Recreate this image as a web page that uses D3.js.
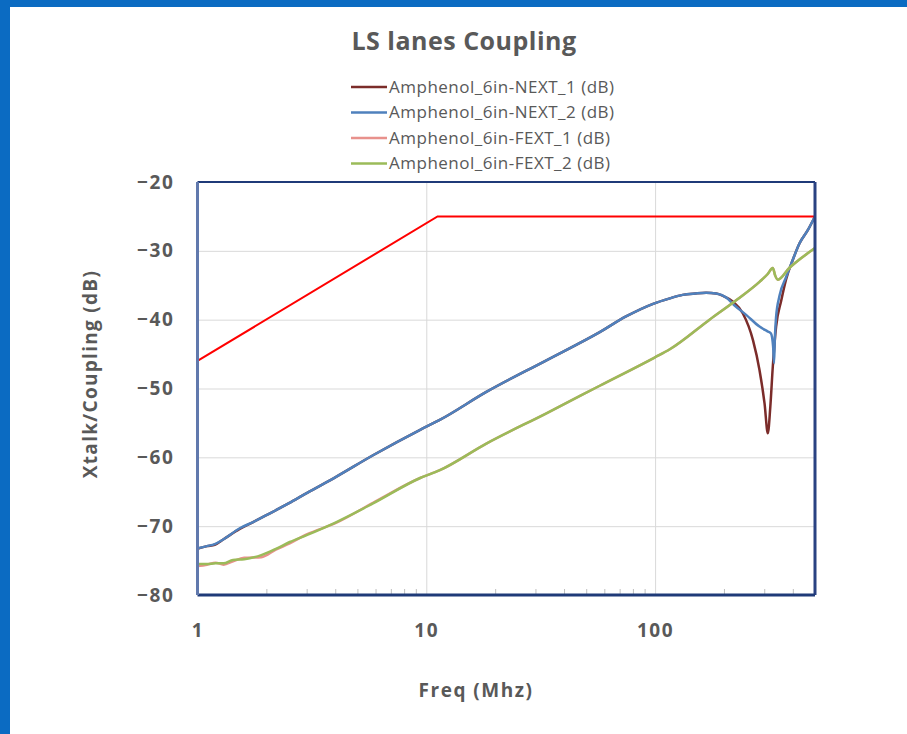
<!DOCTYPE html>
<html>
<head>
<meta charset="utf-8">
<script src="https://cdn.jsdelivr.net/npm/d3@7"></script>
<style>
  body { margin: 0; background: #fff; }
  text { font-family: "Open Sans", sans-serif; fill: #595959; }
</style>
</head>
<body>
<div id="chart"></div>
<script>
// chart data
var seriesNames = ["Amphenol_6in-NEXT_1 (dB)", "Amphenol_6in-NEXT_2 (dB)", "Amphenol_6in-FEXT_1 (dB)", "Amphenol_6in-FEXT_2 (dB)"];
var seriesColors = ["#7b2c2a", "#4f81bd", "#e8918c", "#9bbb59"];

var next1Freq = [1, 1.1, 1.19, 1.3, 1.53, 1.75, 2, 2.5, 3, 4.05, 5.85, 9.4, 11.4, 18.3, 33.5, 57.3, 75, 98, 116, 132, 150, 167, 185, 197, 219, 242, 268, 286, 301, 311, 319, 327, 338, 356, 374, 400, 428, 465, 500];
var next1Db = [-73.3, -72.9, -72.7, -71.9, -70.4, -69.4, -68.4, -66.7, -65.2, -62.8, -59.7, -56.0, -54.6, -50.5, -45.9, -41.8, -39.5, -37.7, -36.9, -36.4, -36.2, -36.1, -36.2, -36.5, -37.4, -39.1, -43.0, -47.3, -52.2, -56.5, -52.6, -46.8, -41.0, -37.2, -34.1, -31.3, -28.9, -27.0, -25.0];

var next2Freq = [1, 1.1, 1.19, 1.3, 1.53, 1.75, 2, 2.5, 3, 4.05, 5.85, 9.4, 11.4, 18.3, 33.5, 57.3, 75, 98, 116, 132, 150, 167, 185, 205, 222, 250, 286, 310, 321, 328, 331, 334, 338, 350, 374, 400, 428, 465, 500];
var next2Db = [-73.2, -72.9, -72.6, -71.9, -70.3, -69.4, -68.4, -66.7, -65.2, -62.8, -59.7, -56.0, -54.6, -50.5, -45.9, -41.8, -39.5, -37.7, -36.9, -36.4, -36.2, -36.1, -36.2, -36.8, -37.9, -39.3, -41.0, -41.7, -42.0, -43.9, -46.3, -42.5, -39.6, -36.5, -33.8, -31.3, -28.9, -27.0, -25.0];

var fext1Freq = [1, 1.1, 1.2, 1.3, 1.43, 1.6, 1.9, 2.2, 2.53, 3, 4.05, 5.85, 9.4, 11.4, 18.3, 33.5, 57.3, 99.5, 116, 173, 230, 286, 310, 327, 335, 344, 386, 430, 500];
var fext1Db = [-75.8, -75.6, -75.3, -75.6, -75.1, -74.6, -74.5, -73.4, -72.5, -71.2, -69.5, -66.6, -63.0, -61.9, -58.0, -53.6, -49.6, -45.5, -44.3, -40.0, -37.0, -34.5, -33.4, -32.5, -33.6, -34.2, -32.5, -31.2, -29.6];

var fext2Freq = [1, 1.1, 1.2, 1.3, 1.43, 1.6, 1.9, 2.2, 2.53, 3, 4.05, 5.85, 9.4, 11.4, 18.3, 33.5, 57.3, 99.5, 116, 173, 230, 286, 310, 327, 335, 344, 386, 430, 500];
var fext2Db = [-75.5, -75.5, -75.4, -75.4, -74.9, -74.8, -74.2, -73.3, -72.3, -71.3, -69.4, -66.7, -63.0, -61.9, -58.0, -53.6, -49.6, -45.5, -44.3, -40.0, -37.0, -34.5, -33.4, -32.5, -33.6, -34.2, -32.5, -31.2, -29.6];

var maskFreq = [1, 11.2, 500];
var maskDb = [-46, -25, -25];

var yTicks = [-20, -30, -40, -50, -60, -70, -80];
var xTicks = [1, 10, 100];
var xMinorTicks = [2, 3, 4, 5, 6, 7, 8, 9, 20, 30, 40, 50, 60, 70, 80, 90, 200, 300, 400];

// set the dimensions
var W = 907, H = 734;
var margin = {top: 182, right: 92, bottom: 139, left: 197.5},
width = W - margin.left - margin.right,
height = H - margin.top - margin.bottom;

var svg = d3.select("#chart")
.append("svg")
.attr("width", W)
.attr("height", H);

// blue window frame
svg.append("rect").attr("x", 0).attr("y", 0).attr("width", W).attr("height", 7).style("fill", "#0b6bc2");
svg.append("rect").attr("x", 0).attr("y", 0).attr("width", 10).attr("height", H).style("fill", "#0b6bc2");

var g = svg.append("g")
.attr("transform", "translate(" + margin.left + "," + margin.top + ")");

var x = d3.scaleLog().domain([1, 500]).range([0, width]);
var y = d3.scaleLinear().domain([-80, -20]).range([height, 0]);

// grid lines
g.append("g")
.call(d3.axisLeft(y).tickValues([-30, -40, -50, -60, -70]).tickSize(-width).tickFormat(""))
.call(function(s) { s.select(".domain").remove(); s.selectAll("line").style("stroke", "#d9d9d9"); });
g.append("g")
.attr("transform", "translate(0," + height + ")")
.call(d3.axisBottom(x).tickValues([10, 100]).tickSize(-height).tickFormat(""))
.call(function(s) { s.select(".domain").remove(); s.selectAll("line").style("stroke", "#d9d9d9"); });

// minor ticks pointing up from the x axis
g.append("g")
.attr("transform", "translate(0," + height + ")")
.call(d3.axisBottom(x).tickValues(xMinorTicks).tickSize(-6).tickFormat(""))
.call(function(s) { s.select(".domain").remove(); s.selectAll("line").style("stroke", "#bfbfbf"); });

// y axis labels
g.append("g")
.call(d3.axisLeft(y).tickValues(yTicks).tickSize(0).tickPadding(23))
.call(function(s) {
  s.select(".domain").remove();
  s.selectAll("text").style("font-size", "19px").style("font-weight", "bold")
    .style("letter-spacing", "1.6px")
    .style("font-family", "'Open Sans', sans-serif").style("fill", "#595959");
});

// x axis labels
g.append("g")
.attr("transform", "translate(0," + height + ")")
.call(d3.axisBottom(x).tickValues(xTicks).tickSize(0).tickPadding(29).tickFormat(d3.format("d")))
.call(function(s) {
  s.select(".domain").remove();
  s.selectAll("text").style("font-size", "19px").style("font-weight", "bold")
    .style("letter-spacing", "1.6px")
    .style("font-family", "'Open Sans', sans-serif").style("fill", "#595959");
});

// lines
var line = d3.line()
.x(function(d) { return x(d[0]); })
.y(function(d) { return y(d[1]); })
.curve(d3.curveMonotoneX);

var series = [
  {name: seriesNames[0], color: seriesColors[0], f: next1Freq, v: next1Db},
  {name: seriesNames[1], color: seriesColors[1], f: next2Freq, v: next2Db},
  {name: seriesNames[2], color: seriesColors[2], f: fext1Freq, v: fext1Db},
  {name: seriesNames[3], color: seriesColors[3], f: fext2Freq, v: fext2Db}
];

g.selectAll(".series")
.data(series)
.enter()
.append("path")
  .attr("class", "series")
  .attr("d", function(d) { return line(d.f.map(function(f, i) { return [f, d.v[i]]; })); })
  .style("fill", "none")
  .style("stroke", function(d) { return d.color; })
  .style("stroke-width", 2.5);

// mask line
g.append("path")
.attr("d", d3.line().x(function(d) { return x(d[0]); }).y(function(d) { return y(d[1]); })(maskFreq.map(function(f, i) { return [f, maskDb[i]]; })))
.style("fill", "none")
.style("stroke", "#ff0000")
.style("stroke-width", 2);

// plot frame
g.append("line").attr("x1", 0).attr("x2", width).attr("y1", 0).attr("y2", 0).style("stroke", "#1f3a78").style("stroke-width", 2);
g.append("line").attr("x1", width).attr("x2", width).attr("y1", 0).attr("y2", height).style("stroke", "#2a4282").style("stroke-width", 3);
g.append("line").attr("x1", 0).attr("x2", width).attr("y1", height).attr("y2", height).style("stroke", "#1f3a78").style("stroke-width", 3);
g.append("line").attr("x1", 0).attr("x2", 0).attr("y1", 0).attr("y2", height).style("stroke", "#6179ad").style("stroke-width", 3);

// titles
svg.append("text")
.attr("x", 464).attr("y", 50)
.attr("text-anchor", "middle")
.style("font-size", "25px").style("font-weight", "bold")
.style("letter-spacing", "0.5px")
.text("LS lanes Coupling");

svg.append("text")
.attr("transform", "translate(97,374) rotate(-90)")
.attr("text-anchor", "middle")
.style("font-size", "19px").style("font-weight", "bold")
.style("letter-spacing", "1.3px")
.text("Xtalk/Coupling (dB)");

svg.append("text")
.attr("x", 476)
.attr("y", 697)
.attr("text-anchor", "middle")
.style("font-size", "19px").style("font-weight", "bold")
.style("letter-spacing", "1.5px")
.text("Freq (Mhz)");

// legend
var legend = svg.selectAll(".legend")
.data(series)
.enter()
.append("g")
  .attr("class", "legend")
  .attr("transform", function(d, i) { return "translate(351," + (87 + i * 25.5) + ")"; });
legend.append("line")
  .attr("x1", 0).attr("x2", 36)
  .style("stroke", function(d) { return d.color; })
  .style("stroke-width", 2.5);
legend.append("text")
  .attr("x", 38).attr("dy", "0.35em")
  .style("font-size", "17px")
  .style("letter-spacing", "0.5px")
  .text(function(d) { return d.name; });
</script>
</body>
</html>
